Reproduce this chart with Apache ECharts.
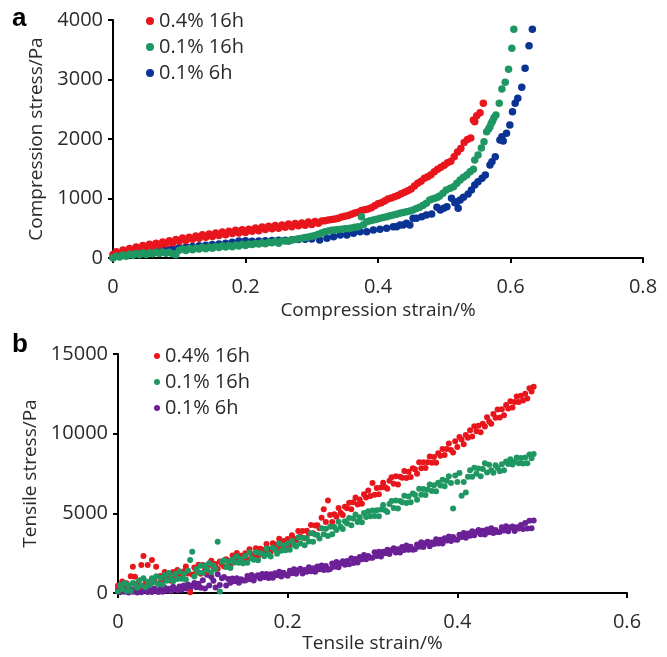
<!DOCTYPE html>
<html><head><meta charset="utf-8">
<script src="https://cdn.jsdelivr.net/npm/echarts@6/dist/echarts.min.js"></script>
<style>html,body{margin:0;padding:0;background:#fff}#c{width:667px;height:657px}</style>
</head><body><div id="c"></div>
<script>
const seriesNames = ['0.4% 16h', '0.1% 16h', '0.1% 6h'];

// Panel a: compression (strain %, stress Pa)
const compRed = [[0,60],[0.005,105],[0.01,70],[0.015,135],[0.02,100],[0.025,160],[0.03,125],[0.035,185],[0.04,150],[0.045,210],[0.05,175],[0.055,230],[0.06,195],[0.065,250],[0.07,215],[0.075,270],[0.08,240],[0.085,290],[0.09,255],[0.095,310],[0.1,280],[0.105,335],[0.11,295],[0.115,350],[0.12,315],[0.125,370],[0.13,330],[0.135,390],[0.14,350],[0.145,405],[0.15,360],[0.155,420],[0.16,380],[0.165,435],[0.17,390],[0.175,450],[0.18,410],[0.185,465],[0.19,420],[0.195,475],[0.2,430],[0.205,485],[0.21,450],[0.215,505],[0.22,460],[0.225,520],[0.23,480],[0.235,535],[0.24,490],[0.245,545],[0.25,500],[0.255,555],[0.26,515],[0.265,570],[0.27,525],[0.275,580],[0.28,540],[0.285,590],[0.29,550],[0.295,605],[0.3,565],[0.305,615],[0.31,585],[0.315,620],[0.32,625],[0.325,640],[0.33,645],[0.335,655],[0.34,670],[0.345,690],[0.35,700],[0.355,715],[0.36,735],[0.365,755],[0.37,770],[0.375,800],[0.38,810],[0.385,825],[0.39,845],[0.395,880],[0.4,910],[0.405,930],[0.41,960],[0.415,990],[0.42,1010],[0.425,1030],[0.43,1050],[0.435,1080],[0.44,1105],[0.445,1130],[0.45,1160],[0.455,1210],[0.46,1255],[0.465,1290],[0.47,1340],[0.475,1365],[0.48,1400],[0.485,1450],[0.49,1490],[0.495,1525],[0.5,1560],[0.505,1600],[0.51,1625],[0.515,1700],[0.52,1780],[0.525,1840],[0.53,1940],[0.535,1990],[0.54,2015],[0.544,2320],[0.546,2290],[0.549,2390],[0.554,2440],[0.559,2600]];
const compGreen = [[0,0],[0.005,30],[0.01,15],[0.015,50],[0.02,30],[0.025,65],[0.03,45],[0.035,75],[0.04,55],[0.045,85],[0.05,60],[0.055,90],[0.06,70],[0.065,95],[0.07,75],[0.075,100],[0.08,80],[0.085,95],[0.09,70],[0.095,55],[0.1,130],[0.105,150],[0.11,125],[0.115,160],[0.12,140],[0.125,170],[0.13,150],[0.135,180],[0.14,155],[0.145,185],[0.15,165],[0.155,195],[0.16,175],[0.165,205],[0.17,185],[0.175,210],[0.18,190],[0.185,220],[0.19,200],[0.195,230],[0.2,210],[0.205,235],[0.21,225],[0.215,245],[0.22,235],[0.225,255],[0.23,240],[0.235,265],[0.24,255],[0.245,280],[0.25,250],[0.255,290],[0.26,285],[0.265,280],[0.27,305],[0.275,310],[0.28,325],[0.285,330],[0.29,345],[0.295,355],[0.3,365],[0.305,380],[0.31,400],[0.315,420],[0.32,440],[0.325,455],[0.33,465],[0.335,470],[0.34,480],[0.345,485],[0.35,490],[0.355,495],[0.36,505],[0.365,515],[0.37,525],[0.375,694],[0.378,560],[0.383,610],[0.388,625],[0.393,639],[0.398,650],[0.403,667],[0.408,680],[0.413,694],[0.418,710],[0.423,723],[0.428,735],[0.433,751],[0.438,765],[0.443,778],[0.448,790],[0.453,807],[0.458,830],[0.463,852],[0.468,885],[0.473,919],[0.478,975],[0.482,990],[0.486,1003],[0.49,1020],[0.493,1042],[0.498,1090],[0.503,1143],[0.509,1171],[0.514,1199],[0.519,1255],[0.524,1311],[0.529,1356],[0.534,1395],[0.539,1451],[0.544,1490],[0.546,1647],[0.551,1731],[0.556,1850],[0.56,1955],[0.564,2123],[0.567,2170],[0.569,2207],[0.571,2264],[0.573,2303],[0.575,2358],[0.578,2404],[0.583,2600],[0.587,2841],[0.592,2953],[0.597,3172],[0.602,3525],[0.605,3844]];
const compBlue = [[0,10],[0.01,30],[0.02,50],[0.03,70],[0.04,90],[0.05,105],[0.06,120],[0.07,135],[0.08,150],[0.09,165],[0.1,175],[0.11,185],[0.12,195],[0.13,205],[0.14,215],[0.15,225],[0.16,235],[0.17,250],[0.18,265],[0.19,285],[0.2,290],[0.21,280],[0.22,285],[0.23,290],[0.24,295],[0.25,300],[0.26,300],[0.27,305],[0.28,310],[0.29,315],[0.3,320],[0.312,303],[0.323,331],[0.333,358],[0.343,387],[0.353,387],[0.363,415],[0.373,442],[0.383,442],[0.393,471],[0.403,482],[0.413,499],[0.423,526],[0.428,526],[0.433,555],[0.438,555],[0.443,583],[0.448,555],[0.453,667],[0.458,667],[0.466,694],[0.473,723],[0.481,740],[0.489,852],[0.494,807],[0.499,835],[0.504,862],[0.511,1003],[0.516,930],[0.519,946],[0.521,835],[0.524,975],[0.529,1020],[0.536,1076],[0.541,1143],[0.546,1227],[0.551,1283],[0.557,1339],[0.562,1395],[0.569,1563],[0.572,1619],[0.577,1703],[0.584,1984],[0.587,2039],[0.589,1967],[0.594,2095],[0.599,2236],[0.603,2460],[0.607,2601],[0.611,2685],[0.617,2870],[0.622,3189],[0.628,3569],[0.633,3844]];

// Panel b: tensile (strain %, stress Pa)
const tensileStrain = [
0,0.0025,0.005,0.0075,0.01,0.0125,0.015,0.0175,0.02,0.0225,
0.025,0.0275,0.03,0.0325,0.035,0.0375,0.04,0.0425,0.045,0.0475,
0.05,0.0525,0.055,0.0575,0.06,0.0625,0.065,0.0675,0.07,0.0725,
0.075,0.0775,0.08,0.0825,0.085,0.0875,0.09,0.0925,0.095,0.0975,
0.1,0.1025,0.105,0.1075,0.11,0.1125,0.115,0.1175,0.12,0.1225,
0.125,0.1275,0.13,0.1325,0.135,0.1375,0.14,0.1425,0.145,0.1475,
0.15,0.1525,0.155,0.1575,0.16,0.1625,0.165,0.1675,0.17,0.1725,
0.175,0.1775,0.18,0.1825,0.185,0.1875,0.19,0.1925,0.195,0.1975,
0.2,0.2025,0.205,0.2075,0.21,0.2125,0.215,0.2175,0.22,0.2225,
0.225,0.2275,0.23,0.2325,0.235,0.2375,0.24,0.2425,0.245,0.2475,
0.25,0.2525,0.255,0.2575,0.26,0.2625,0.265,0.2675,0.27,0.2725,
0.275,0.2775,0.28,0.2825,0.285,0.2875,0.29,0.2925,0.295,0.2975,
0.3,0.3025,0.305,0.3075,0.31,0.3125,0.315,0.3175,0.32,0.3225,
0.325,0.3275,0.33,0.3325,0.335,0.3375,0.34,0.3425,0.345,0.3475,
0.35,0.3525,0.355,0.3575,0.36,0.3625,0.365,0.3675,0.37,0.3725,
0.375,0.3775,0.38,0.3825,0.385,0.3875,0.39,0.3925,0.395,0.3975,
0.4,0.4025,0.405,0.4075,0.41,0.4125,0.415,0.4175,0.42,0.4225,
0.425,0.4275,0.43,0.4325,0.435,0.4375,0.44,0.4425,0.445,0.4475,
0.45,0.4525,0.455,0.4575,0.46,0.4625,0.465,0.4675,0.47,0.4725,
0.475,0.4775,0.48,0.4825,0.485,0.4875,0.49];
const tensileRed = [
470,180,720,360,610,170,1050,1650,1020,600,
380,1750,2330,620,1760,560,2070,800,1650,610,
1070,780,1320,960,1110,770,1320,1010,1450,1200,
980,1370,1660,1220,50,1160,1600,1400,1770,1210,
1750,1435,1320,1775,2020,1635,1820,1515,1980,1825,
1670,2125,2030,1715,2350,2025,2510,2045,2340,2045,
2500,2115,2740,2425,2340,2815,2290,2775,2730,2615,
3070,2755,2570,3115,3040,2775,3400,2965,3260,2995,
3390,3015,3630,3405,3310,3895,3530,3895,3440,3905,
3740,4270,3750,4240,4250,4060,4720,5250,4450,5800,
4900,4450,4940,4790,5330,5040,4900,5420,5320,5670,
5260,5700,5990,5560,5870,5600,6190,5990,6430,6090,
6900,6160,6590,6190,6620,6920,6630,6540,7040,7260,
6850,7330,6810,7300,7240,7660,7220,7610,7280,7830,
7760,7490,8200,7830,8210,7840,8200,8560,8170,8530,
8180,8770,8620,9040,8660,9040,9380,8980,8820,9530,
9160,9790,9630,9340,9920,9750,10220,9830,10470,10150,
10500,10090,10620,10450,11030,10760,10630,11240,11000,11510,
11020,11540,11150,11800,11580,12040,11650,11990,12340,11990,
12380,12080,12500,12200,12850,12650,12950];
const tensileGreen = [
100,490,250,620,140,490,120,630,510,330,
800,475,920,365,710,495,930,685,1050,555,
940,530,1120,770,1250,920,730,1200,880,1350,
900,1195,850,1415,2070,2590,1040,1495,1290,1715,
1270,1725,1480,1865,1300,1725,1510,3220,90,1965,
2060,1625,1960,1575,2110,1915,2310,1905,2120,1865,
2330,1895,2540,2185,2090,2565,2050,2505,2460,2305,
2790,2425,2290,2835,2730,2465,3100,2645,2980,2685,
3110,2715,3280,3035,2920,3485,3100,3465,2990,3435,
3230,3755,3220,3675,3640,3425,4060,3685,4030,3585,
4160,3685,4150,3955,4470,4155,4010,4505,4360,4705,
4250,4680,4920,4460,4760,4440,5020,4770,5130,4810,
5170,4830,5200,4820,5240,5530,5200,5090,5590,5770,
5340,5810,5300,5770,5690,6100,5650,6050,5700,6250,
6170,5860,6550,6160,6520,6150,6490,6810,6400,6760,
6390,6920,6740,7110,6700,7040,7330,6910,5300,7370,
6970,7530,6100,6960,6300,7290,7710,7290,7860,7490,
7810,7330,7780,8150,7570,8050,7700,7540,8020,7850,
7640,8080,7700,8250,8090,8400,8060,8240,8500,8140,
8470,8130,8500,8150,8700,8450,8730];
const tensilePurple = [
230,45,290,75,150,35,240,75,170,35,
230,45,150,275,70,215,60,275,150,65,
260,75,350,155,270,105,390,255,170,415,
200,470,280,540,240,460,620,360,580,330,
800,275,1150,475,1000,775,350,1175,500,925,
1000,465,880,645,910,745,930,645,870,785,
780,1065,870,1125,790,1035,1110,905,1190,995,
1200,940,1170,950,1240,1110,1340,1040,1270,1140,
1090,1390,1240,1490,1210,1420,1520,1220,1450,1330,
1620,1360,1550,1330,1660,1490,1730,1450,1700,1460,
1510,1845,1650,1945,1620,1875,2000,1775,2010,1805,
2180,1885,2130,1915,2260,2115,2380,2115,2320,2205,
2220,2550,2330,2590,2290,2590,2490,2720,2440,2690,
2810,2535,2750,2545,2880,2705,2980,2715,2910,2715,
2750,3050,2900,3180,2890,3130,3220,2940,3170,3070,
3370,3110,3340,3100,3430,3300,3540,3270,3510,3360,
3340,3660,3520,3770,3470,3740,3600,3880,3620,3830,
3950,3685,3900,3675,3980,3815,4070,3765,3960,3835,
3830,4125,3930,4185,3870,4105,4170,3895,4120,4045,
4260,4020,4390,4050,4530,4070,4550];

const colors = { red: '#e8161c', green: '#1f9763', blue: '#0b3393', purple: '#6b2096' };
const FONT = 'Open Sans';
const TXT = '#2a2a2a';

const chart = echarts.init(document.getElementById('c'));

function axisStyle() {
  return {
    axisLine: { show: true, lineStyle: { color: '#000', width: 2 } },
    axisTick: { show: true, inside: false, length: 5, lineStyle: { color: '#000', width: 2 } },
    splitLine: { show: false },
    axisLabel: { color: TXT, fontFamily: FONT, fontSize: 20, formatter: (v) => String(v) },
    nameTextStyle: { color: TXT, fontFamily: FONT, fontSize: 19 }
  };
}
function mk(o) { const b = axisStyle(); return Object.assign(b, o, {
  axisLabel: Object.assign(b.axisLabel, o.axisLabel || {}),
  nameTextStyle: Object.assign(b.nameTextStyle, o.nameTextStyle || {})
}); }

function legendFor(top, left, size, c3) {
  return {
    orient: 'vertical', left: left, top: top, icon: 'circle',
    itemWidth: size, itemHeight: size, itemGap: 6, padding: 0,
    textStyle: { color: TXT, fontFamily: FONT, fontSize: 20, lineHeight: 20 },
    data: [
      { name: seriesNames[0], itemStyle: { color: colors.red } },
      { name: seriesNames[1], itemStyle: { color: colors.green } },
      { name: seriesNames[2], itemStyle: { color: c3 } }
    ],
    selectedMode: false
  };
}

const pair = (ys) => tensileStrain.map((x, i) => [x, ys[i]]);

chart.setOption({
  animation: false,
  backgroundColor: '#fff',
  grid: [
    { left: 113, right: 24, top: 20, bottom: 399 },
    { left: 118, right: 40, top: 354, bottom: 64 }
  ],
  xAxis: [
    mk({ gridIndex: 0, type: 'value', min: 0, max: 0.8, interval: 0.2,
      name: 'Compression strain/%', nameLocation: 'middle', nameGap: 43,
      axisLabel: { margin: 19 } }),
    mk({ gridIndex: 1, type: 'value', min: 0, max: 0.6, interval: 0.2,
      name: 'Tensile strain/%', nameLocation: 'middle', nameGap: 41,
      axisLabel: { margin: 19 } })
  ],
  yAxis: [
    mk({ gridIndex: 0, type: 'value', min: 0, max: 4000, interval: 1000,
      name: 'Compression stress/Pa', nameLocation: 'middle', nameGap: 57,
      axisLabel: { margin: 10 } }),
    mk({ gridIndex: 1, type: 'value', min: 0, max: 15000, interval: 5000,
      name: 'Tensile stress/Pa', nameLocation: 'middle', nameGap: 71,
      axisLabel: { margin: 10 } })
  ],
  legend: [
    legendFor(11, 146, 8, colors.blue),
    legendFor(346, 154, 6, colors.purple)
  ],
  graphic: [
    { type: 'text', left: 12, top: 6, style: { text: 'a', fill: '#000', font: 'bold 26px "Liberation Sans", Arial' } },
    { type: 'text', left: 12, top: 332, style: { text: 'b', fill: '#000', font: 'bold 26px "Liberation Sans", Arial' } }
  ],
  series: [
    { name: seriesNames[2], type: 'scatter', xAxisIndex: 0, yAxisIndex: 0, symbolSize: 7.5, itemStyle: { color: colors.blue, opacity: 1 }, data: compBlue },
    { name: seriesNames[0], type: 'scatter', xAxisIndex: 0, yAxisIndex: 0, symbolSize: 7.5, itemStyle: { color: colors.red, opacity: 1 }, data: compRed },
    { name: seriesNames[1], type: 'scatter', xAxisIndex: 0, yAxisIndex: 0, symbolSize: 7.5, itemStyle: { color: colors.green, opacity: 1 }, data: compGreen },
    { name: seriesNames[2], type: 'scatter', xAxisIndex: 1, yAxisIndex: 1, symbolSize: 6, itemStyle: { color: colors.purple, opacity: 1 }, data: pair(tensilePurple) },
    { name: seriesNames[0], type: 'scatter', xAxisIndex: 1, yAxisIndex: 1, symbolSize: 6, itemStyle: { color: colors.red, opacity: 1 }, data: pair(tensileRed) },
    { name: seriesNames[1], type: 'scatter', xAxisIndex: 1, yAxisIndex: 1, symbolSize: 6, itemStyle: { color: colors.green, opacity: 1 }, data: pair(tensileGreen) }
  ]
});
</script></body></html>
